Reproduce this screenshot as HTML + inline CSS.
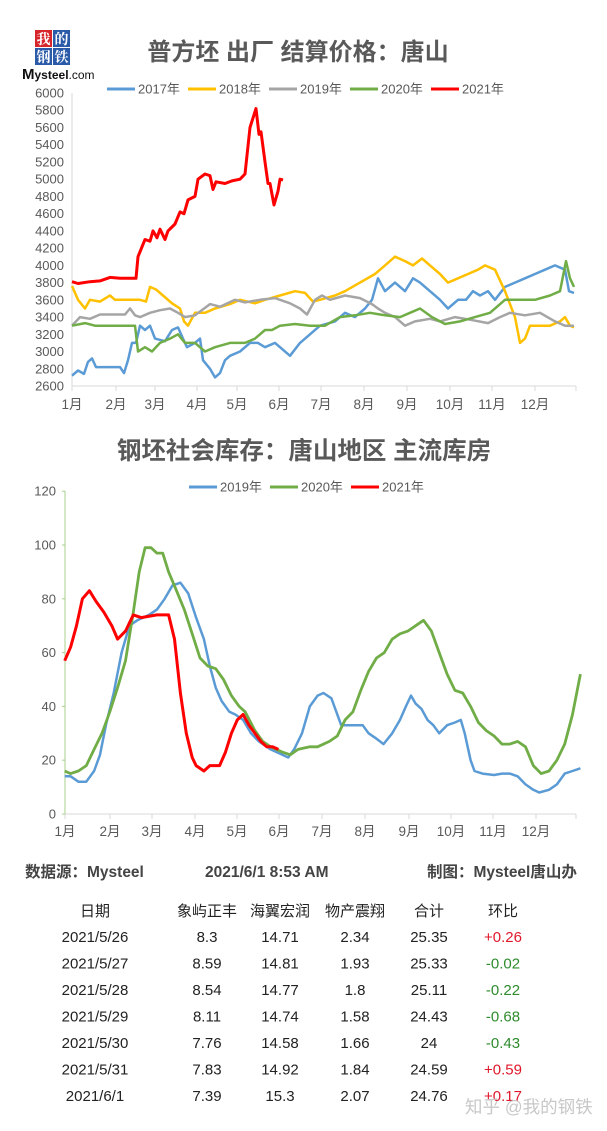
<!DOCTYPE html>
<html><head><meta charset="utf-8">
<style>
body{margin:0;background:#fff;width:607px;height:1131px;overflow:hidden;font-family:"Liberation Sans","Noto Sans CJK SC",sans-serif;}
svg{position:absolute;left:0;top:0}
</style></head><body>
<svg id="s" width="607" height="1131" xmlns="http://www.w3.org/2000/svg" font-family="Liberation Sans, Noto Sans CJK SC, sans-serif">
<rect x="35" y="30" width="17" height="17" fill="#d7262b"/><text x="43.5" y="44" font-size="14" fill="#fff" text-anchor="middle" font-family="Noto Serif CJK SC, serif" font-weight="bold">我</text>
<rect x="53" y="30" width="17" height="17" fill="#2a5aa8"/><text x="61.5" y="44" font-size="14" fill="#fff" text-anchor="middle" font-family="Noto Serif CJK SC, serif" font-weight="bold">的</text>
<rect x="35" y="48" width="17" height="17" fill="#2a5aa8"/><text x="43.5" y="62" font-size="14" fill="#fff" text-anchor="middle" font-family="Noto Serif CJK SC, serif" font-weight="bold">钢</text>
<rect x="53" y="48" width="17" height="17" fill="#2a5aa8"/><text x="61.5" y="62" font-size="14" fill="#fff" text-anchor="middle" font-family="Noto Serif CJK SC, serif" font-weight="bold">铁</text>
<text x="22" y="79" font-size="15" font-weight="bold" fill="#111">M<tspan font-size="12">ysteel</tspan><tspan font-size="12" font-weight="normal">.com</tspan></text>

<text x="298" y="60" font-size="24" font-weight="bold" fill="#595959" text-anchor="middle">普方坯 出厂 结算价格：唐山</text>
<text x="304" y="459" font-size="24.5" font-weight="bold" fill="#595959" text-anchor="middle">钢坯社会库存：唐山地区 主流库房</text>
<g id="g"></g>

<g font-size="15.5" font-weight="bold" fill="#444">
<text x="25" y="877">数据源：Mysteel</text>
<text x="205" y="877">2021/6/1 8:53 AM</text>
<text x="427" y="877">制图：Mysteel唐山办</text>
</g>
<g id="t" font-size="15" fill="#222" text-anchor="middle"></g>
<text x="465" y="1113" font-size="17.5" fill="#c8c8c8">知乎 @我的钢铁</text>
</svg>
<script>
var g=document.getElementById('g'),NS='http://www.w3.org/2000/svg';
function el(n,a,txt){var e=document.createElementNS(NS,n);for(var k in a)e.setAttribute(k,a[k]);if(txt!=null)e.textContent=txt;g.appendChild(e);return e;}
function y1(v){return 93+(6000-v)*0.08618;}
for(var v=2600;v<=6000;v+=200){el('text',{x:64,y:y1(v)+4.5,'font-size':13,fill:'#595959','text-anchor':'end'},v);}
el('line',{x1:72,y1:93,x2:72,y2:386,stroke:'#d9d9d9'});
el('line',{x1:72,y1:386,x2:576,y2:386,stroke:'#d9d9d9'});
var mx=[72,116,155,197,237,279,321,364,407,450,492,535,576];
for(var i=0;i<13;i++){el('line',{x1:mx[i],y1:386,x2:mx[i],y2:391,stroke:'#d9d9d9'});}
for(var i=0;i<12;i++){el('text',{x:mx[i],y:409,'font-size':13.5,fill:'#595959','text-anchor':'middle'},(i+1)+'月');}
function poly(pts,fy,col,w,sx){var s=pts.map(function(p){return (sx?p[0]/2.55:p[0]).toFixed(1)+','+fy(p[1]).toFixed(1)}).join(' ');el('polyline',{points:s,fill:'none',stroke:col,'stroke-width':w,'stroke-linejoin':'round'});}
var B=[[72,2720],[78,2780],[84,2740],[88,2880],[92,2920],[96,2820],[120,2820],[124,2750],[128,2900],[132,3100],[136,3100],[140,3300],[145,3250],[150,3300],[155,3150],[165,3120],[172,3250],[178,3280],[183,3150],[187,3050],[195,3100],[200,3150],[203,2900],[210,2800],[215,2700],[220,2750],[225,2900],[230,2950],[240,3000],[250,3100],[258,3100],[265,3050],[275,3100],[280,3050],[290,2950],[300,3100],[310,3200],[320,3300],[335,3350],[345,3450],[355,3400],[365,3500],[372,3600],[378,3850],[385,3700],[395,3800],[405,3700],[413,3850],[420,3800],[430,3700],[440,3600],[448,3500],[458,3600],[466,3600],[473,3700],[480,3650],[488,3700],[495,3600],[505,3750],[515,3800],[525,3850],[535,3900],[545,3950],[555,4000],[565,3950],[569,3700],[574,3680]];
var Y=[[72,3760],[78,3600],[85,3500],[90,3600],[100,3580],[110,3650],[115,3600],[140,3600],[146,3580],[150,3750],[156,3720],[163,3650],[172,3560],[180,3500],[184,3350],[188,3300],[195,3450],[205,3450],[215,3500],[230,3550],[240,3600],[255,3560],[265,3600],[280,3650],[295,3700],[305,3680],[313,3580],[320,3600],[335,3650],[345,3700],[360,3800],[375,3900],[385,4000],[395,4100],[405,4050],[413,4000],[422,4080],[430,4000],[440,3900],[448,3800],[458,3850],[468,3900],[478,3950],[485,4000],[495,3950],[505,3700],[515,3400],[520,3100],[525,3150],[530,3300],[540,3300],[550,3300],[560,3350],[565,3400],[570,3300],[574,3280]];
var G=[[72,3300],[80,3400],[90,3380],[100,3430],[125,3430],[130,3500],[135,3420],[140,3400],[150,3450],[160,3480],[170,3500],[178,3450],[185,3400],[195,3420],[210,3550],[220,3520],[235,3600],[245,3570],[260,3600],[275,3620],[290,3560],[300,3500],[307,3430],[315,3600],[322,3650],[330,3600],[345,3650],[360,3620],[372,3550],[378,3500],[385,3450],[395,3400],[405,3300],[415,3350],[430,3380],[440,3350],[455,3400],[470,3370],[488,3330],[500,3400],[510,3450],[525,3420],[540,3450],[555,3350],[565,3300],[574,3300]];
var Gr=[[72,3300],[85,3330],[95,3300],[135,3300],[138,3000],[145,3050],[152,3000],[160,3100],[170,3150],[178,3200],[185,3100],[195,3100],[205,3000],[215,3050],[230,3100],[245,3100],[255,3150],[265,3250],[272,3250],[280,3300],[295,3320],[310,3300],[325,3300],[340,3400],[355,3420],[370,3450],[385,3420],[400,3400],[410,3450],[420,3500],[432,3400],[445,3320],[460,3350],[475,3400],[490,3450],[505,3600],[515,3600],[535,3600],[550,3650],[560,3700],[566,4050],[570,3850],[574,3750]];
var R=[[72,3810],[78,3790],[90,3810],[100,3820],[110,3860],[120,3850],[136,3850],[138,4100],[145,4300],[150,4280],[153,4400],[157,4320],[160,4420],[165,4300],[168,4400],[175,4480],[180,4620],[184,4600],[188,4760],[195,4800],[198,5000],[205,5060],[210,5040],[213,4880],[216,4970],[225,4950],[232,4980],[240,5000],[245,5060],[250,5600],[256,5820],[259,5520],[261,5550],[265,5200],[268,4950],[270,4950],[274,4700],[278,4860],[280,5000],[283,4990]];
poly(B,y1,'#5b9bd5',2.5);poly(Y,y1,'#ffc000',2.5);poly(G,y1,'#a5a5a5',2.5);poly(Gr,y1,'#70ad47',2.5);poly(R,y1,'#ff0000',3);
var L=[['2017年','#5b9bd5',107],['2018年','#ffc000',188],['2019年','#a5a5a5',269],['2020年','#70ad47',350],['2021年','#ff0000',431]];
L.forEach(function(l){el('line',{x1:l[2],y1:89,x2:l[2]+28,y2:89,stroke:l[1],'stroke-width':3});el('text',{x:l[2]+31,y:93.5,'font-size':13,fill:'#595959'},l[0]);});
function y2(v){return 814-v*2.69;}
for(var v=0;v<=120;v+=20){el('text',{x:56,y:y2(v)+4.5,'font-size':13,fill:'#595959','text-anchor':'end'},v);}
el('line',{x1:65,y1:491,x2:65,y2:814,stroke:'#a9d18e'});
el('line',{x1:65,y1:814,x2:576,y2:814,stroke:'#d9d9d9'});
var mx2=[65,110,152,195,237,279,322,365,409,451,493,536,576];
for(var i=0;i<13;i++){el('line',{x1:mx2[i],y1:814,x2:mx2[i],y2:819,stroke:'#d9d9d9'});}
for(var v=0;v<=120;v+=20){el('line',{x1:62,y1:y2(v),x2:65,y2:y2(v),stroke:'#a9d18e'});}
for(var i=0;i<12;i++){el('text',{x:mx2[i],y:836,'font-size':13.5,fill:'#595959','text-anchor':'middle'},(i+1)+'月');}
var B2=[[165,14],[180,14],[200,12],[220,12],[240,16],[255,22],[270,33],[290,45],[310,60],[330,70],[350,72],[380,74],[400,76],[420,80],[440,85],[460,86],[480,82],[500,73],[520,65],[535,55],[550,47],[565,42],[585,38],[600,37],[620,35],[640,30],[660,27],[690,24],[720,22],[735,21],[750,24],[770,30],[790,40],[810,44],[825,45],[845,43],[870,33],[900,33],[925,33],[940,30],[960,28],[978,26],[1000,30],[1020,35],[1035,40],[1048,44],[1060,41],[1075,39],[1090,35],[1105,33],[1120,30],[1140,33],[1160,34],[1175,35],[1185,30],[1200,20],[1210,16],[1230,15],[1260,14.5],[1280,15],[1300,15],[1320,14],[1340,11],[1360,9],[1375,8],[1400,9],[1420,11],[1440,15],[1460,16],[1480,17]];
var G2=[[165,16],[180,15],[200,16],[220,18],[240,24],[260,30],[280,38],[300,47],[320,57],[340,75],[355,90],[370,99],[385,99],[400,97],[415,97],[430,90],[450,83],[470,76],[490,67],[510,58],[530,55],[550,54],[570,50],[590,44],[610,40],[625,38],[650,31],[670,27],[690,25],[720,23],[740,22],[760,24],[790,25],[810,25],[840,27],[860,29],[870,32],[880,35],[900,38],[920,46],[940,53],[960,58],[980,60],[1000,65],[1020,67],[1040,68],[1060,70],[1080,72],[1100,68],[1120,60],[1140,52],[1160,46],[1180,45],[1200,40],[1220,34],[1240,31],[1260,29],[1280,26],[1300,26],[1320,27],[1340,25],[1360,18],[1380,15],[1400,16],[1420,20],[1440,26],[1460,37],[1480,52]];
var R2=[[165,57],[180,62],[195,70],[210,80],[228,83],[245,79],[265,75],[285,70],[300,65],[320,68],[340,74],[360,73],[400,74],[430,74],[445,65],[460,45],[475,30],[490,21],[500,18],[520,16],[535,18],[560,18],[575,23],[590,30],[605,35],[620,37],[635,33],[650,30],[665,27],[680,25],[695,25],[710,24]];
poly(B2,y2,'#5b9bd5',2.5,1);poly(G2,y2,'#70ad47',2.8,1);poly(R2,y2,'#ff0000',3,1);
var L2=[['2019年','#5b9bd5',189],['2020年','#70ad47',270],['2021年','#ff0000',351]];
L2.forEach(function(l){el('line',{x1:l[2],y1:487,x2:l[2]+28,y2:487,stroke:l[1],'stroke-width':3});el('text',{x:l[2]+31,y:491.5,'font-size':13,fill:'#595959'},l[0]);});
var t=document.getElementById('t');
function tx(x,y,s,c){var e=document.createElementNS(NS,'text');e.setAttribute('x',x);e.setAttribute('y',y);if(c)e.setAttribute('fill',c);e.textContent=s;t.appendChild(e);}
var cx=[95,207,280,355,429,503];
['日期','象屿正丰','海翼宏润','物产震翔','合计','环比'].forEach(function(s,i){tx(cx[i],916,s);});
var rows=[['2021/5/26','8.3','14.71','2.34','25.35','+0.26'],['2021/5/27','8.59','14.81','1.93','25.33','-0.02'],['2021/5/28','8.54','14.77','1.8','25.11','-0.22'],['2021/5/29','8.11','14.74','1.58','24.43','-0.68'],['2021/5/30','7.76','14.58','1.66','24','-0.43'],['2021/5/31','7.83','14.92','1.84','24.59','+0.59'],['2021/6/1','7.39','15.3','2.07','24.76','+0.17']];
rows.forEach(function(r,j){var y=942+j*26.5;r.forEach(function(s,i){tx(cx[i],y,s,i==5?(s[0]=='+'?'#e0182b':'#2e8b2e'):null);});});
</script>
</body></html>
